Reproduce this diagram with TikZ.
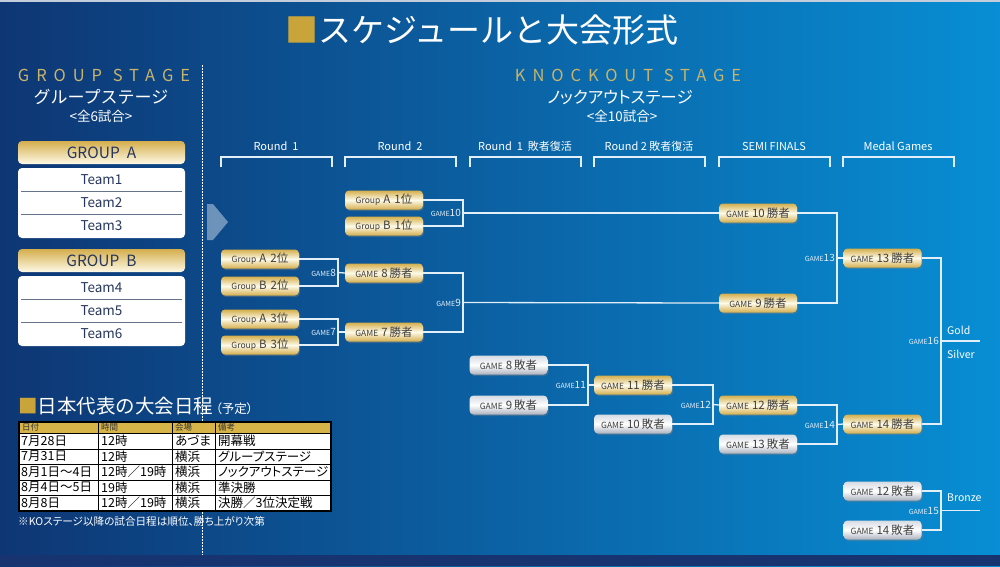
\documentclass[tikz,border=0pt]{standalone}
\usepackage{fontspec}
\setmainfont{Noto Sans CJK JP}
\usetikzlibrary{shadows}

\definecolor{bgleft}{RGB}{14,54,116}
\definecolor{bgright}{RGB}{8,142,212}
\definecolor{bandclr}{RGB}{24,52,112}
\definecolor{goldtxt}{RGB}{200,180,106}
\definecolor{goldsq}{RGB}{201,164,58}
\definecolor{goldtop}{RGB}{254,250,232}
\definecolor{goldbot}{RGB}{212,174,76}
\definecolor{greymid}{RGB}{214,218,226}
\definecolor{greybot}{RGB}{172,178,190}
\definecolor{boxtxt}{RGB}{62,62,62}
\definecolor{teamtxt}{RGB}{38,54,92}
\definecolor{lineclr}{RGB}{226,238,248}
\definecolor{tblhd}{RGB}{214,180,72}

\newcommand{\grp}[2]{{\fontsize{8.5}{9}\selectfont Group}\hspace{3pt}#1\hspace{4pt}#2位}
\newcommand{\gm}[2]{{\fontsize{8.5}{9}\selectfont GAME}\hspace{3pt}#1\hspace{2pt}#2}
\newcommand{\gmno}[1]{{\fontsize{7}{7}\selectfont GAME}#1}

\tikzset{
  winbox/.style={rounded corners=4pt, minimum width=78pt, minimum height=19pt, inner sep=0pt,
    top color=goldbot, bottom color=goldbot, middle color=goldtop, text=boxtxt,
    font=\fontsize{11.5}{12}\selectfont,
    drop shadow={shadow xshift=1pt, shadow yshift=-1.5pt, opacity=.4}},
  losebox/.style={winbox, top color=greymid, bottom color=greybot, middle color=white},
  conn/.style={draw=lineclr, line width=1.3pt},
  gamelbl/.style={text=lineclr, font=\fontsize{10}{10}\selectfont, inner sep=2pt},
  medal/.style={text=white, font=\fontsize{10.5}{11}\selectfont, inner sep=0pt},
  bracket/.style={draw=lineclr, line width=1.3pt},
  rndlbl/.style={text=white, font=\fontsize{11}{11}\selectfont},
  stagehd/.style={text=goldtxt, font=\fontsize{16.5}{17}\selectfont\addfontfeature{LetterSpace=42}},
  subhd/.style={text=white, font=\fontsize{17}{17}\selectfont},
  cnthd/.style={text=white, font=\fontsize{13.5}{14}\selectfont},
  grphdr/.style={rounded corners=4pt, minimum width=167pt, minimum height=23pt, inner sep=0pt,
    top color=goldbot, bottom color=goldtop, text=teamtxt, font=\fontsize{15.5}{16}\selectfont},
  teambox/.style={rounded corners=4pt, fill=white, minimum width=167pt, minimum height=70pt},
  team/.style={text=teamtxt, font=\fontsize{13.5}{14}\selectfont},
  sepline/.style={draw=teamtxt!70!white, line width=1pt},
  tblline/.style={draw=black, line width=.8pt},
  thd/.style={anchor=west, inner sep=0pt, text=black!80, font=\fontsize{8.5}{9}\selectfont},
  tcell/.style={anchor=west, inner sep=0pt, text=black, font=\fontsize{12.5}{13}\selectfont\addfontfeature{RawFeature=+palt}}
}

\begin{document}
\begin{tikzpicture}[x=1pt,y=-1pt]
  \useasboundingbox (0,0) rectangle (1000,566);
  \shade[left color=bgleft, right color=bgright] (0,0) rectangle (1000,566);
  \fill[bandclr] (0,555) rectangle (1000,566);
  \fill[white!75!bgleft] (0,0) rectangle (1000,2);

  % title
  \node[text=white, font=\fontsize{33}{33}\selectfont] (title) at (482,30)
    {{\color{goldsq}■}スケジュールと大会形式};

  % stage headings
  \node[stagehd] (gs) at (104,75) {GROUP STAGE};
  \node[subhd] (gsj) at (101,97) {グループステージ};
  \node[cnthd] (gsn) at (101,116) {<全6試合>};
  \node[stagehd] (ks) at (628,75) {KNOCKOUT STAGE};
  \node[subhd, font=\fontsize{16.5}{17}\selectfont\addfontfeature{RawFeature=+palt}] (ksj) at (620,97) {ノックアウトステージ};
  \node[cnthd] (ksn) at (622,116) {<全10試合>};

  \draw[white, line width=1pt, dash pattern=on 1.5pt off 1.5pt] (202,65) -- (202,555);
  \fill[lineclr, opacity=.45] (207,204) -- (213,204) -- (228,222) -- (213,240) -- (207,240) -- cycle;

  % group stage
  \foreach \g/\y/\ta/\tb/\tc in {A/141/1/2/3, B/249/4/5/6}{
    \node[grphdr] (hdr\g) at (101.5,\y+11.5) {GROUP\ \ \g};
    \node[teambox] (box\g) at (101.5,\y+62) {};
    \draw[sepline] (21,\y+50) -- (182,\y+50);
    \draw[sepline] (21,\y+73) -- (182,\y+73);
    \node[team] (t\ta) at (101.5,\y+39) {Team\ta};
    \node[team] (t\tb) at (101.5,\y+62) {Team\tb};
    \node[team] (t\tc) at (101.5,\y+85) {Team\tc};
  }

  % round headings
  \foreach \x/\lbl [count=\i] in {221/{Round\ \ 1}, 345/{Round\ \ 2}, 470/{Round\ \ 1\ \ 敗者復活},
      594/{Round 2 敗者復活}, 719/{SEMI FINALS}, 843/{Medal Games}}{
    \draw[bracket] (\x,167) -- (\x,157) -- (\x+111,157) -- (\x+111,167);
    \node[rndlbl] (rnd\i) at (\x+55,146) {\lbl};
  }

  % knockout boxes
  \node[winbox] (a1) at (384,200) {\grp{A}{1}};
  \node[winbox] (b1) at (384,226) {\grp{B}{1}};
  \node[winbox] (a2) at (260,259) {\grp{A}{2}};
  \node[winbox] (b2) at (260,286) {\grp{B}{2}};
  \node[winbox] (a3) at (260,319) {\grp{A}{3}};
  \node[winbox] (b3) at (260,345) {\grp{B}{3}};
  \node[winbox] (w8) at (384,273) {\gm{8}{勝者}};
  \node[winbox] (w7) at (384,332) {\gm{7}{勝者}};
  \node[losebox] (l8) at (508.5,365) {\gm{8}{敗者}};
  \node[losebox] (l9) at (508.5,405) {\gm{9}{敗者}};
  \node[winbox] (w11) at (633,385) {\gm{11}{勝者}};
  \node[losebox] (l10) at (633,424) {\gm{10}{敗者}};
  \node[winbox] (w10) at (758,213) {\gm{10}{勝者}};
  \node[winbox] (w9) at (758,303) {\gm{9}{勝者}};
  \node[winbox] (w12) at (758,405) {\gm{12}{勝者}};
  \node[losebox] (l13) at (758,444) {\gm{13}{敗者}};
  \node[winbox] (w13) at (882.5,258) {\gm{13}{勝者}};
  \node[winbox] (w14) at (882.5,424) {\gm{14}{勝者}};
  \node[losebox] (l12) at (882.5,491) {\gm{12}{敗者}};
  \node[losebox] (l14) at (882.5,530) {\gm{14}{敗者}};

  % game junctions
  \coordinate (g8) at (338,272.5);
  \coordinate (g7) at (338,332);
  \coordinate (g10) at (463,213);
  \coordinate (g9) at (463,302.5);
  \coordinate (g11) at (588,385);
  \coordinate (g12) at (713,404.5);
  \coordinate (g13) at (837,258);
  \coordinate (g14) at (837,424.5);
  \coordinate (g16) at (941,341);
  \coordinate (g15) at (941,510.5);
  \coordinate (gold) at (980,341);
  \coordinate (bronze) at (980,510.5);

  \begin{scope}[conn]
    \draw (a2.east) -| (g8) |- (b2.east);
    \draw (g8) -- (w8.west);
    \draw (a3.east) -| (g7) |- (b3.east);
    \draw (g7) -- (w7.west);
    \draw (a1.east) -| (g10) |- (b1.east);
    \draw (g10) -- (w10.west);
    \draw (w8.east) -| (g9) |- (w7.east);
    \draw (g9) -- (w9.west);
    \draw (l8.east) -| (g11) |- (l9.east);
    \draw (g11) -- (w11.west);
    \draw (w11.east) -| (g12) |- (l10.east);
    \draw (g12) -- (w12.west);
    \draw (w10.east) -| (g13) |- (w9.east);
    \draw (g13) -- (w13.west);
    \draw (w12.east) -| (g14) |- (l13.east);
    \draw (g14) -- (w14.west);
    \draw (w13.east) -| (g16) |- (w14.east);
    \draw (g16) -- (gold);
    \draw (l12.east) -| (g15) |- (l14.east);
    \draw (g15) -- (bronze);
  \end{scope}

  \node[gamelbl, left] (n8) at (g8) {\gmno{8}};
  \node[gamelbl, left] (n7) at (g7) {\gmno{7}};
  \node[gamelbl, left] (n10) at (g10) {\gmno{10}};
  \node[gamelbl, left] (n9) at (g9) {\gmno{9}};
  \node[gamelbl, left] (n11) at (g11) {\gmno{11}};
  \node[gamelbl, left] (n12) at (g12) {\gmno{12}};
  \node[gamelbl, left] (n13) at (g13) {\gmno{13}};
  \node[gamelbl, left] (n14) at (g14) {\gmno{14}};
  \node[gamelbl, left] (n16) at (g16) {\gmno{16}};
  \node[gamelbl, left] (n15) at (g15) {\gmno{15}};
  \node[medal, anchor=west] (mg) at (947,330) {Gold};
  \node[medal, anchor=west] (ms) at (947,354) {Silver};
  \node[medal, anchor=west] (mb) at (947,498) {Bronze};

  % schedule table
  \node[anchor=west, inner sep=0pt, text=white, font=\fontsize{19.5}{20}\selectfont] (sched) at (18,406)
    {{\color{goldsq}■}日本代表の大会日程};
  \node[anchor=base west, inner sep=0pt, text=white, font=\fontsize{12.5}{13}\selectfont\addfontfeature{RawFeature=+palt}] (yotei)
    at ([xshift=2pt]sched.base east) {（予定）};
  \fill[white] (19,422) rectangle (331,511);
  \fill[tblhd] (19,422) rectangle (331,433);
  \foreach \yy in {433,449,464,480,495} \draw[tblline] (19,\yy) -- (331,\yy);
  \foreach \xx in {98,172,215} \draw[tblline] (\xx,422) -- (\xx,511);
  \draw[tblline, line width=1.1pt] (19,422) rectangle (331,511);
  \foreach \xx/\h [count=\i] in {22/日付, 101/時間, 175/会場, 218/備考}
    \node[thd] (th\i) at (\xx,427.5) {\h};
  \foreach \d/\t/\p/\n [count=\r] in {7月28日/12時/あづま/開幕戦, 7月31日/12時/横浜/グループステージ,
      8月1日～4日/12時／19時/横浜/ノックアウトステージ, 8月4日～5日/19時/横浜/準決勝,
      8月8日/12時／19時/横浜/決勝／3位決定戦}{
    \pgfmathsetmacro{\yy}{425.5+\r*15.5}
    \node[tcell] (d\r) at (21,\yy) {\d};
    \node[tcell] (t\r) at (101,\yy) {\t};
    \node[tcell] (p\r) at (175,\yy) {\p};
    \node[tcell] (c\r) at (218,\yy) {\n};
  }
  \node[anchor=west, inner sep=0pt, text=white, font=\fontsize{10.6}{11}\selectfont\addfontfeature{RawFeature=+palt}] (note) at (18,521)
    {※KOステージ以降の試合日程は順位、勝ち上がり次第};
\end{tikzpicture}
\end{document}
